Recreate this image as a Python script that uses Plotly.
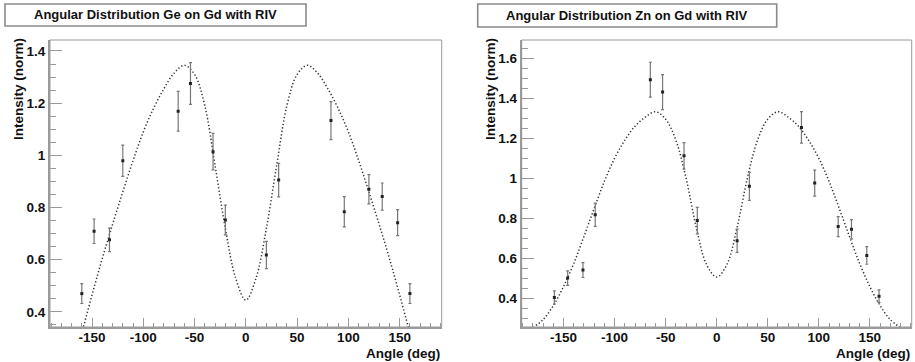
import plotly.graph_objects as go

W, H = 915, 362

# ---------------- data ----------------
ge_angle = [-160, -148, -133, -120, -66, -54, -32, -20, 20, 32, 83, 96, 120, 133, 148, 160]
ge_int = [0.470, 0.709, 0.676, 0.979, 1.169, 1.275, 1.014, 0.752, 0.618, 0.905, 1.133, 0.784, 0.870, 0.842, 0.742, 0.470]
ge_err = [0.038, 0.047, 0.045, 0.060, 0.076, 0.080, 0.070, 0.057, 0.052, 0.064, 0.073, 0.058, 0.056, 0.052, 0.050, 0.038]

zn_angle = [-159, -146, -131, -119, -65, -53, -32, -19, 20, 32, 83, 96, 119, 132, 147, 159]
zn_int = [0.405, 0.502, 0.542, 0.818, 1.492, 1.430, 1.112, 0.789, 0.688, 0.960, 1.254, 0.976, 0.759, 0.746, 0.615, 0.412]
zn_err = [0.033, 0.036, 0.037, 0.058, 0.087, 0.087, 0.066, 0.066, 0.058, 0.070, 0.079, 0.065, 0.050, 0.048, 0.044, 0.031]

fit_angle = [-180, -170, -160, -150, -140, -130, -120, -110, -100, -90, -80, -70, -60, -50, -40, -30, -20, -10,
             0, 10, 20, 30, 40, 50, 60, 70, 80, 90, 100, 110, 120, 130, 140, 150, 160, 170, 180]
ge_fit = [0.09, 0.19, 0.32, 0.465, 0.605, 0.735, 0.86, 0.98, 1.09, 1.18, 1.255, 1.315, 1.345, 1.31, 1.19, 0.96, 0.72, 0.53,
          0.445, 0.53, 0.72, 0.96, 1.19, 1.31, 1.345, 1.315, 1.255, 1.18, 1.09, 0.98, 0.86, 0.735, 0.605, 0.465, 0.32, 0.19, 0.09]
zn_fit = [0.255, 0.295, 0.365, 0.46, 0.575, 0.71, 0.85, 0.985, 1.10, 1.19, 1.26, 1.305, 1.332, 1.295, 1.19, 1.0, 0.755, 0.57,
          0.507, 0.57, 0.755, 1.0, 1.19, 1.295, 1.332, 1.305, 1.26, 1.19, 1.10, 0.985, 0.85, 0.71, 0.575, 0.46, 0.365, 0.295, 0.255]

x_tickvals = [-150, -100, -50, 0, 50, 100, 150]
x_ticktext = ["-150", "-100", "-50", "0", "50", "100", "150"]
ge_yvals = [0.4, 0.6, 0.8, 1.0, 1.2, 1.4]
ge_ytext = ["0.4", "0.6", "0.8", "1", "1.2", "1.4"]
zn_yvals = [0.4, 0.6, 0.8, 1.0, 1.2, 1.4, 1.6]
zn_ytext = ["0.4", "0.6", "0.8", "1", "1.2", "1.4", "1.6"]

titles = ["Angular Distribution Ge on Gd with RIV", "Angular Distribution Zn on Gd with RIV"]
x_title = "Angle (deg)"
y_title = "Intensity (norm)"

# ---------------- layout helpers ----------------
def px(x):
    return x / W

def py(y):
    return 1 - y / H

FONT = "Liberation Sans, Arial, sans-serif"
AXC = "#9a9a9a"

fig = go.Figure()

panels = [
    dict(ax="", ang=ge_angle, val=ge_int, err=ge_err, fit=ge_fit, xl=50, xr=441.7,
         yr=[0.342, 1.442], yv=ge_yvals, yt=ge_ytext, box=(5, 4, 306, 26), ytx=19),
    dict(ax="2", ang=zn_angle, val=zn_int, err=zn_err, fit=zn_fit, xl=521.7, xr=911.7,
         yr=[0.258, 1.690], yv=zn_yvals, yt=zn_ytext, box=(477.7, 4, 776.7, 27), ytx=491),
]

ytop, ybot = 40, 327
shapes = []
annotations = []
for i, p in enumerate(panels):
    xa = "x" + p["ax"]
    ya = "y" + p["ax"]
    fig.add_trace(go.Scatter(
        x=fit_angle, y=p["fit"], mode="lines",
        line=dict(color="#333", width=1.5, dash="1.3px,2.2px", shape="spline"),
        xaxis=xa, yaxis=ya, showlegend=False, hoverinfo="skip"))
    fig.add_trace(go.Scatter(
        x=p["ang"], y=p["val"], mode="markers",
        marker=dict(color="#222", size=3, symbol="square"),
        error_y=dict(type="data", array=p["err"], color="#777", thickness=1.2, width=1.5),
        xaxis=xa, yaxis=ya, showlegend=False))

    dom_x = [px(p["xl"]), px(p["xr"])]
    dom_y = [py(ybot), py(ytop)]
    xkey = "xaxis" + p["ax"]
    ykey = "yaxis" + p["ax"]
    fig.layout[xkey] = dict(
        domain=dom_x, range=[-191, 191], anchor=ya,
        tickmode="array", tickvals=x_tickvals, ticktext=x_ticktext,
        ticks="inside", ticklen=9, tickwidth=1, tickcolor=AXC, ticklabelstandoff=-3,
        minor=dict(tickmode="linear", tick0=0, dtick=10, ticks="inside", ticklen=4.5, tickcolor=AXC, tickwidth=1),
        showline=True, linecolor=AXC, linewidth=2, mirror=False,
        showgrid=False, zeroline=False,
        tickfont=dict(family=FONT, size=13.5, color="#111", weight="bold"),
    )
    fig.layout[ykey] = dict(
        domain=dom_y, range=p["yr"], anchor=xa,
        tickmode="array", tickvals=p["yv"], ticktext=p["yt"],
        ticks="inside", ticklen=12, tickwidth=1, tickcolor=AXC,
        minor=dict(tickmode="linear", tick0=0, dtick=0.05, ticks="inside", ticklen=6, tickcolor=AXC, tickwidth=1),
        showline=True, linecolor=AXC, linewidth=2, mirror=False,
        showgrid=False, zeroline=False,
        tickfont=dict(family=FONT, size=13.5, color="#111", weight="bold"),
    )
    # thin frame top/right
    shapes.append(dict(type="rect", xref="paper", yref="paper",
                       x0=px(p["xl"]), x1=px(p["xr"]), y0=py(ybot), y1=py(ytop),
                       line=dict(color=AXC, width=1), fillcolor="rgba(0,0,0,0)", layer="above"))
    # title box
    bx0, by0, bx1, by1 = p["box"]
    shapes.append(dict(type="rect", xref="paper", yref="paper",
                       x0=px(bx0), x1=px(bx1), y0=py(by1), y1=py(by0),
                       line=dict(color="#8a8a8a", width=1.6), fillcolor="white", layer="above"))
    annotations.append(dict(text=titles[i], xref="paper", yref="paper",
                            x=px((bx0 + bx1) / 2), y=py((by0 + by1) / 2), xanchor="center", yanchor="middle",
                            showarrow=False, font=dict(family=FONT, size=13, color="#111", weight="bold")))
    annotations.append(dict(text=x_title, xref="paper", yref="paper",
                            x=px(p["xr"]), y=py(353), xanchor="right", yanchor="middle",
                            showarrow=False, font=dict(family=FONT, size=13.5, color="#111", weight="bold")))
    annotations.append(dict(text=y_title, xref="paper", yref="paper", textangle=-90,
                            x=px(p["ytx"]), y=py(36), xanchor="center", yanchor="top",
                            showarrow=False, font=dict(family=FONT, size=13.5, color="#111", weight="bold")))

fig.update_layout(
    width=W, height=H, margin=dict(l=0, r=0, t=0, b=0),
    paper_bgcolor="white", plot_bgcolor="white",
    shapes=shapes, annotations=annotations, showlegend=False,
)

fig.write_html("out.html", config={"displayModeBar": False},
               post_script="document.body.style.margin='0px';document.body.style.overflow='hidden';")
